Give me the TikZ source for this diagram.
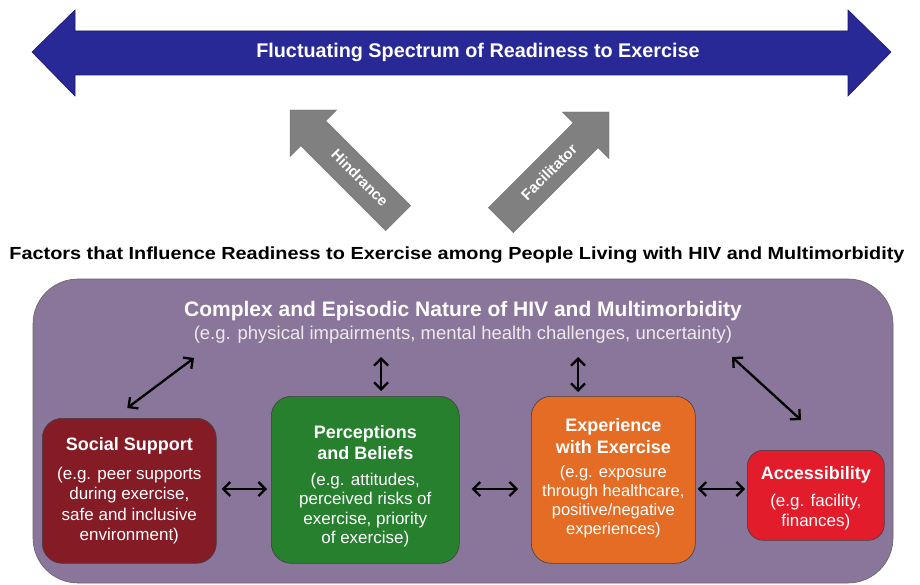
\documentclass[tikz,border=0pt]{standalone}
\usepackage{fontspec}
\setmainfont{Liberation Sans}
\usetikzlibrary{arrows.meta}
\definecolor{spblue}{RGB}{40,40,150}
\definecolor{argray}{RGB}{128,128,128}
\definecolor{bgpurple}{RGB}{138,117,155}
\definecolor{ssred}{RGB}{133,27,37}
\definecolor{pbgreen}{RGB}{38,128,46}
\definecolor{exorange}{RGB}{228,108,36}
\definecolor{acred}{RGB}{226,28,42}
\begin{document}
\begin{tikzpicture}[x=1pt,y=-1pt,
  dbl/.style={{Straight Barb[length=7pt,width=14pt]}-{Straight Barb[length=7pt,width=14pt]}, line width=2.3pt},
  factor/.style={draw=black!75, line width=0.6pt, rounded corners=20pt, inner sep=0pt, anchor=north west},
  ftext/.style={align=center, text=white, inner sep=0pt},
  wtext/.style={text=white, inner sep=0pt},
  grayarrow/.style={fill=argray, draw=argray!85!black, line width=0.4pt},
]
\useasboundingbox (0,0) rectangle (920,585);
% spectrum arrow
\draw[fill=spblue, draw=spblue!70!black, line width=0.6pt]
  (32,52) -- (75,10) -- (75,31) -- (848,31) -- (848,10) -- (891,52) -- (848,96) -- (848,75) -- (75,75) -- (75,96) -- cycle;
\node[wtext, font=\bfseries\fontsize{19.8}{22}\selectfont] (spectrum) at (478,52) {Fluctuating Spectrum of Readiness to Exercise};
% hindrance / facilitator arrows
\draw[grayarrow] (290,110) -- (336.7,110) -- (325.7,120.9) -- (410.6,205.8) -- (385.8,230.6) -- (300.9,145.7) -- (290,156.7) -- cycle;
\draw[grayarrow] (609,112) -- (562.3,112) -- (573.3,122.9) -- (488.4,207.8) -- (513.2,232.6) -- (598.1,147.7) -- (609,158.7) -- cycle;
\node[wtext, rotate=-45, font=\bfseries\fontsize{15}{18}\selectfont] (hind) at (360,178) {Hindrance};
\node[wtext, rotate=45, font=\bfseries\fontsize{15}{18}\selectfont] (facil) at (549,172) {Facilitator};
% title
\node[inner sep=0pt, font=\bfseries\fontsize{17.5}{21}\selectfont] (title) at (457,255)
  {\resizebox{895pt}{\height}{Factors that Influence Readiness to Exercise among People Living with HIV and Multimorbidity}};
% purple panel
\draw[fill=bgpurple, draw=black!60, line width=0.6pt, rounded corners=45pt] (33,279) rectangle (893,583);
\node[wtext, font=\bfseries\fontsize{21}{24}\selectfont] (header) at (463,311) {Complex and Episodic Nature of HIV and Multimorbidity};
\node[wtext, text=white!92!black, font=\fontsize{18.5}{22}\selectfont] (sub) at (463,335) {(e.g. physical impairments, mental health challenges, uncertainty)};
% factor boxes
\node[factor, fill=ssred, minimum width=174pt, minimum height=145pt] (social) at (42,418) {};
\node[factor, fill=pbgreen, minimum width=188pt, minimum height=167pt] (percep) at (271,396) {};
\node[factor, fill=exorange, minimum width=164pt, minimum height=167pt] (exper) at (531,396) {};
\node[factor, fill=acred, minimum width=137pt, minimum height=90pt, rounded corners=16pt] (access) at (747,450) {};
\node[ftext, font=\fontsize{17}{20.5}\selectfont] (socialtext) at (social.center)
  {{\bfseries\fontsize{18}{21}\selectfont Social Support}\\[8pt](e.g. peer supports\\during exercise,\\safe and inclusive\\environment)};
\node[ftext, font=\fontsize{17}{19.5}\selectfont, yshift=-6.5pt] (percetext) at (percep.center)
  {{\bfseries\fontsize{18}{21}\selectfont Perceptions}\\[1.5pt]{\bfseries\fontsize{18}{21}\selectfont and Beliefs}\\[6pt](e.g. attitudes,\\perceived risks of\\exercise, priority\\of exercise)};
\node[ftext, font=\fontsize{16.5}{19}\selectfont, yshift=2pt] (expertext) at (exper.center)
  {{\bfseries\fontsize{18}{21}\selectfont Experience}\\[3pt]{\bfseries\fontsize{18}{21}\selectfont with Exercise}\\[5pt](e.g. exposure\\through healthcare,\\positive/negative\\experiences)};
\node[ftext, font=\fontsize{17}{20}\selectfont, yshift=-2.5pt] (accesstext) at (access.center)
  {{\bfseries\fontsize{18}{21}\selectfont Accessibility}\\[7pt](e.g. facility,\\finances)};
% connectors
\coordinate (h1) at (194,358);
\coordinate (h2) at (381,357);
\coordinate (h3) at (578,357);
\coordinate (h4) at (732,357);
\draw[dbl] (h1) -- ([xshift=-2pt,yshift=10pt]social.north);
\draw[dbl, shorten >=5pt] (h2) -- (percep.north -| h2);
\draw[dbl, shorten >=4pt] (h3) -- (exper.north -| h3);
\draw[dbl] (h4) -- (801,420);
\draw[dbl, shorten <=5pt, shorten >=4pt] (social.east |- 0,489) -- (percep.west |- 0,489);
\draw[dbl, shorten <=12pt, shorten >=13pt] (percep.east |- 0,489) -- (exper.west |- 0,489);
\draw[dbl, shorten <=2pt, shorten >=2pt] (exper.east |- 0,489) -- (access.west |- 0,489);
\end{tikzpicture}
\end{document}
